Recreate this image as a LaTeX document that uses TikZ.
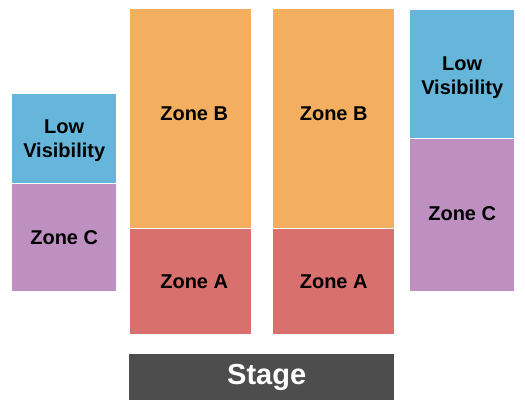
\documentclass[tikz,border=0pt]{standalone}
\usepackage{fontspec}
\setmainfont{Liberation Sans}
\usetikzlibrary{positioning}

\definecolor{zoneBcol}{HTML}{F3AF5F}
\definecolor{zoneAcol}{HTML}{D8706D}
\definecolor{lowviscol}{HTML}{66B6DC}
\definecolor{zoneCcol}{HTML}{BE90C2}
\definecolor{stagecol}{HTML}{4D4D4D}

\begin{document}
\begin{tikzpicture}[
  x=1pt,y=-1pt,
  font=\bfseries\fontsize{20}{24}\selectfont,
  block/.style={rectangle,draw=none,inner sep=0pt,anchor=north west,align=center},
  zoneb/.style={block,fill=zoneBcol},
  zonea/.style={block,fill=zoneAcol},
  lowvis/.style={block,fill=lowviscol},
  zonec/.style={block,fill=zoneCcol},
  stagebox/.style={block,fill=stagecol},
  lbl/.style={inner sep=0pt,align=center},
]
\useasboundingbox (0,0) rectangle (525,411);

% left column
\node[lowvis,minimum width=104pt,minimum height=89pt] (lv1) at (12,94) {};
\node[lbl] at ([yshift=-2pt]lv1.center) {Low\\Visibility};
\node[zonec,minimum width=104pt,minimum height=107pt] (c1) at (12,184) {Zone C};

% centre sections
\node[zoneb,minimum width=121pt,minimum height=219pt] (b1) at (130,9) {};
\node[lbl] at ([xshift=3.5pt,yshift=5pt]b1.center) {Zone B};
\node[zonea,minimum width=121pt,minimum height=105pt] (a1) at (130,229) {};
\node[lbl] at ([xshift=3.5pt]a1.center) {Zone A};

\node[zoneb,minimum width=121pt,minimum height=219pt] (b2) at (273,9) {};
\node[lbl] at ([yshift=5pt]b2.center) {Zone B};
\node[zonea,minimum width=121pt,minimum height=105pt] (a2) at (273,229) {Zone A};

% right column
\node[lowvis,minimum width=104pt,minimum height=128pt] (lv2) at (410,10) {};
\node[lbl] at ([yshift=-3pt]lv2.center) {Low\\Visibility};
\node[zonec,minimum width=104pt,minimum height=152pt] (c2) at (410,139) {};
\node[lbl] at ([yshift=2pt]c2.center) {Zone C};

% stage
\node[stagebox,minimum width=265pt,minimum height=46pt] (stage) at (129,354) {};
\node[lbl,text=white,font=\bfseries\fontsize{29}{32}\selectfont] at ([xshift=5pt]stage.center) {Stage};
\end{tikzpicture}
\end{document}
